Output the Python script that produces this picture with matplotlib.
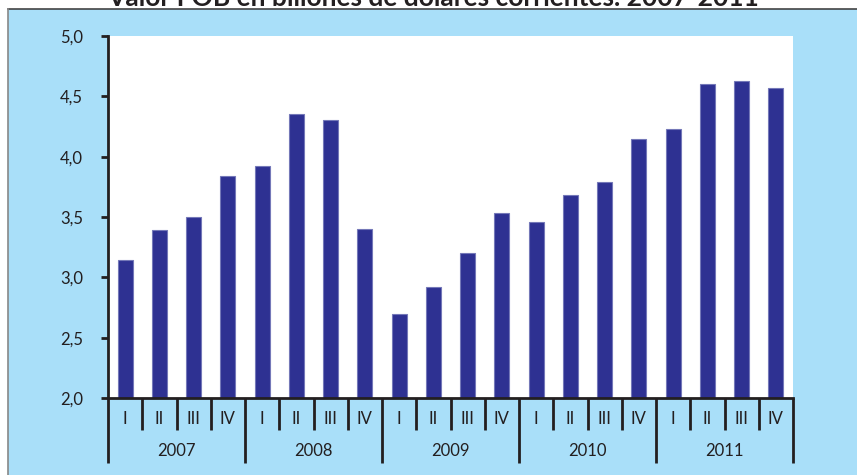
import numpy as np
import matplotlib
import matplotlib.pyplot as plt
from matplotlib.patches import Rectangle
from matplotlib.lines import Line2D

matplotlib.use("Agg")
plt.rcParams["font.family"] = ["Lato", "DejaVu Sans"]

# valores FOB trimestrales (billones de dolares)
years = ["2007", "2008", "2009", "2010", "2011"]
quarters = ["I", "II", "III", "IV"]
values = [3.14, 3.39, 3.50, 3.84,
          3.92, 4.35, 4.30, 3.40,
          2.70, 2.92, 3.20, 3.53,
          3.46, 3.68, 3.79, 4.15,
          4.23, 4.60, 4.63, 4.57]

title = "Valor FOB en billones de dólares corrientes. 2007-2011"
dark = "#231F20"
bg = "#A9DFF9"
bar_color = "#2E3192"

fig = plt.figure(figsize=(8.57, 4.75), dpi=100)
fig.patch.set_facecolor("white")

# fondo celeste con borde
fig.patches.append(Rectangle((8 / 857, 0), 1, 1 - 9 / 475, transform=fig.transFigure,
                             facecolor=bg, edgecolor="none", zorder=-10))
fig.lines.append(Line2D([8 / 857, 1], [1 - 9 / 475] * 2, transform=fig.transFigure,
                        color="#444444", lw=1.2, zorder=-5))
fig.lines.append(Line2D([8 / 857] * 2, [0, 1 - 9 / 475], transform=fig.transFigure,
                        color="#888888", lw=1.2, zorder=-5))

fig.text(0.505, 1 - 6 / 475, title, ha="center", va="baseline",
         fontsize=19, fontweight="bold", color=dark)

ax = fig.add_axes([108 / 857, 1 - 398 / 475, (793 - 108) / 857, (398 - 36) / 475])
ax.set_zorder(1)
ax.set_facecolor("white")

x = np.arange(len(values))
ax.bar(x, values, width=0.44, color=bar_color, edgecolor="#7478B8", linewidth=0.8)
ax.set_ylim(2.0, 5.0)
ax.set_xlim(-0.5, len(values) - 0.5)

yt = np.arange(2.0, 5.01, 0.5)
ax.set_yticks(yt)
ax.set_yticklabels([f"{v:.1f}".replace(".", ",") for v in yt], fontsize=12, color=dark)
ax.tick_params(axis="y", length=5, width=2, color=dark, pad=13)
ax.set_xticks([])

for s in ["top", "right"]:
    ax.spines[s].set_visible(False)
for s in ["left", "bottom"]:
    ax.spines[s].set_color(dark)
    ax.spines[s].set_linewidth(2)

tr = ax.get_xaxis_transform()
n = len(values)
for i in range(n + 1):
    xs = i - 0.5
    low = -0.18 if i % 4 == 0 else -0.088
    ax.plot([xs, xs], [0, low], transform=tr, color=dark, lw=2, clip_on=False,
            solid_capstyle="butt")
for i in range(n):
    ax.text(i, -0.058, quarters[i % 4], transform=tr, ha="center", va="center",
            fontsize=12, color=dark)
for j, yr in enumerate(years):
    ax.text(j * 4 + 1.5, -0.146, yr, transform=tr, ha="center", va="center",
            fontsize=12, color=dark)

fig.savefig("out.png", dpi=100, facecolor=fig.get_facecolor())
